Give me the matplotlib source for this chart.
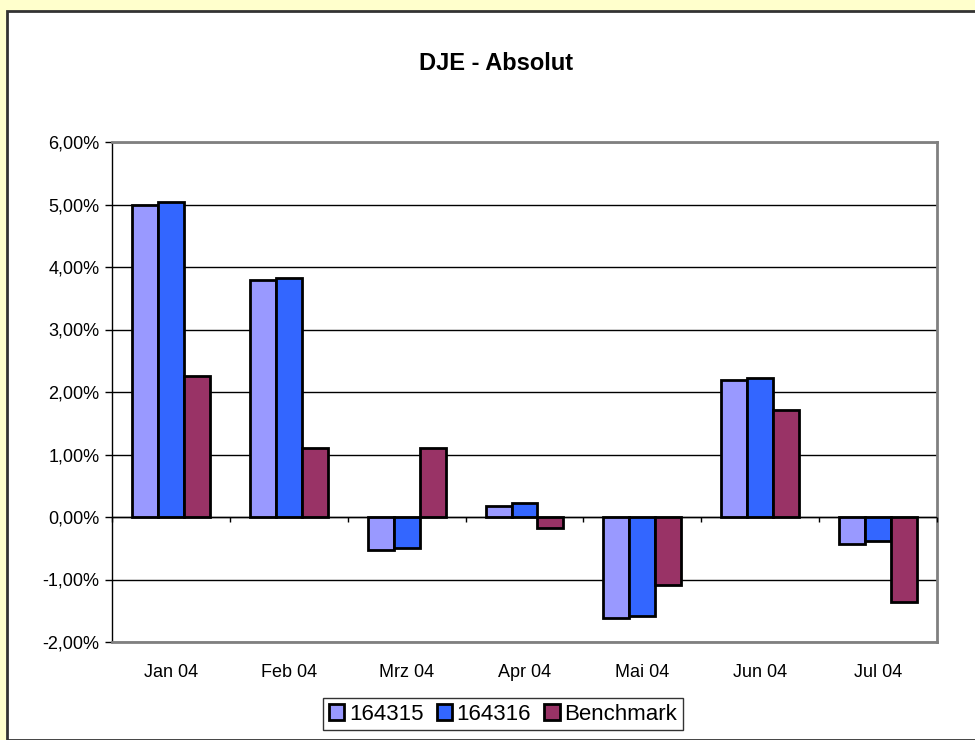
import matplotlib
matplotlib.use("Agg")
import matplotlib.pyplot as plt
import numpy as np
from matplotlib.patches import Rectangle
from matplotlib.ticker import FuncFormatter, MultipleLocator

categories = ["Jan 04", "Feb 04", "Mrz 04", "Apr 04", "Mai 04", "Jun 04", "Jul 04"]
s164315 = [4.99, 3.79, -0.53, 0.18, -1.61, 2.19, -0.43]
s164316 = [5.04, 3.83, -0.50, 0.23, -1.58, 2.22, -0.39]
benchmark = [2.26, 1.11, 1.10, -0.18, -1.08, 1.71, -1.36]
series_names = ["164315", "164316", "Benchmark"]
colors = ["#9999FF", "#3366FF", "#993366"]

plt.rcParams['font.family'] = ['Liberation Sans', 'DejaVu Sans']

W, H = 975, 740
fig = plt.figure(figsize=(W / 100, H / 100), dpi=100, facecolor="#FFFFCC")

# white chart area with dark border (left/top visible)
fig.patches.append(Rectangle((7 / W, 0), 1 - 7 / W + 0.01, 1 - 11 / H, transform=fig.transFigure,
                             facecolor="white", edgecolor="#333333", linewidth=2, zorder=-10))

ax = fig.add_axes([112 / W, 1 - 642 / H, (937 - 112) / W, (642 - 142) / H])
ax.set_zorder(5)
ax.set_facecolor("white")

n = len(categories)
x = np.arange(n)
bw = 0.22
data = [s164315, s164316, benchmark]
for i, (vals, c, name) in enumerate(zip(data, colors, series_names)):
    ax.bar(x + (i - 1) * bw, vals, width=bw, color=c, edgecolor="black", linewidth=2,
           label=name, zorder=3)

ax.set_xlim(-0.5, n - 0.5)
ax.set_ylim(-2, 6)
ax.yaxis.set_major_locator(MultipleLocator(1))
ax.yaxis.set_major_formatter(FuncFormatter(lambda v, p: f"{v:.2f}%".replace(".", ",")))
ax.grid(axis="y", color="black", linewidth=1, zorder=1)
ax.set_axisbelow(True)

ax.set_xticks(x)
ax.set_xticklabels(categories)
ax.tick_params(axis="x", length=0, pad=16, labelsize=13)
ax.tick_params(axis="y", length=5, width=1, color="black", labelsize=13, pad=4, direction="out")

for side in ["top", "right", "bottom"]:
    ax.spines[side].set_color("#808080")
    ax.spines[side].set_linewidth(2)
ax.spines["left"].set_color("black")
ax.spines["left"].set_linewidth(1)

# category axis at zero with boundary ticks
ax.axhline(0, color="black", linewidth=1, zorder=4)
bounds = np.arange(n + 1) - 0.5
ax.vlines(bounds, -0.08, 0, color="black", linewidth=1, zorder=4, clip_on=False)

fig.text(496 / W, 1 - 64 / H, "DJE - Absolut", ha="center", va="center",
         fontsize=17, fontweight="bold")

leg = fig.legend(loc="center", bbox_to_anchor=(503 / W, 1 - 714 / H), ncol=3,
                 frameon=True, fancybox=False, edgecolor="black", fontsize=16,
                 handlelength=0.7, handleheight=0.7, handletextpad=0.2, columnspacing=0.6,
                 borderpad=0.25, borderaxespad=0)
leg.get_frame().set_linewidth(1)

fig.savefig("out.png", dpi=100, facecolor=fig.get_facecolor())
